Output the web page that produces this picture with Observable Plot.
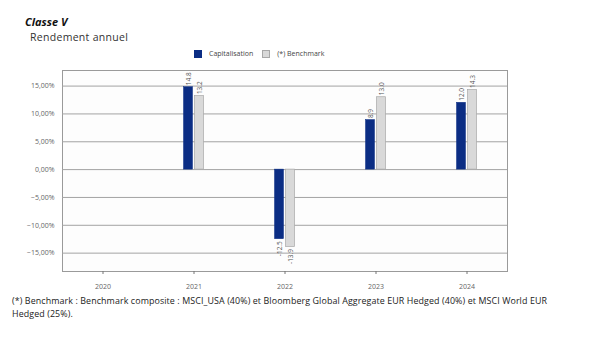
<!DOCTYPE html>
<html><head><meta charset="utf-8">
<script src="https://cdn.jsdelivr.net/npm/d3@7"></script>
<script src="https://cdn.jsdelivr.net/npm/@observablehq/plot@0.6"></script>
<style>
body{margin:0;background:#fff;font-family:"Open Sans",sans-serif;}
#wrap{position:relative;width:605px;height:351px;overflow:hidden;}
#title{position:absolute;left:25px;top:14px;font-size:11px;font-weight:700;font-style:italic;color:#111;}
#sub{position:absolute;left:30px;top:30px;font-size:10.5px;color:#333;letter-spacing:0.3px;}
#legend{position:absolute;left:194px;top:49px;font-size:7px;color:#444;display:flex;align-items:center;}
.sw{width:8px;height:8px;display:inline-block;margin-right:7px;box-sizing:border-box;}
#chart{position:absolute;left:0;top:60px;}
#note{position:absolute;left:12px;top:294px;font-size:8.9px;color:#222;line-height:13px;letter-spacing:0.1px;white-space:nowrap;}
</style></head>
<body><div id="wrap">
<div id="title">Classe V</div>
<div id="sub">Rendement annuel</div>
<div id="legend"></div>
<div id="chart"></div>
<div id="note">(*) Benchmark : Benchmark composite : MSCI_USA (40%) et Bloomberg Global Aggregate EUR Hedged (40%) et MSCI World EUR<br>Hedged (25%).</div>
</div>
<script>
const years = ["2020","2021","2022","2023","2024"];
const capitalisation = [null, 14.8, -12.5, 8.9, 12.0];
const benchmark = [null, 13.2, -13.9, 13.0, 14.3];
const yTicks = [-15,-10,-5,0,5,10,15];
const seriesNames = ["Capitalisation","(*) Benchmark"];
const colors = ["#0b2d84","#d9d9d9"];
const strokes = ["#0b2d84","#a8a8a8"];

const legend = document.getElementById("legend");
seriesNames.forEach((n,i)=>{
  const s=document.createElement("span");s.className="sw";
  s.style.background=colors[i];s.style.border="1px solid "+strokes[i];
  const t=document.createElement("span");t.textContent=n;t.style.marginRight=i===0?"9px":"0";
  legend.append(s,t);
});

const capData = years.map((y,i)=>({year:y,v:capitalisation[i]})).filter(d=>d.v!=null);
const benData = years.map((y,i)=>({year:y,v:benchmark[i]})).filter(d=>d.v!=null);
const fmt = v => d3.format(".2f")(v).replace(".",",")+"%";
const lbl = d => d.v.toFixed(1);
const pos = a => a.filter(d=>d.v>=0), neg = a => a.filter(d=>d.v<0);
const labelOpts = {x:"year", y:"v", text:lbl, rotate:-90, fill:"#555", fontSize:6.5};

const chart = Plot.plot({
  width:605, height:236,
  marginLeft:62, marginRight:98, marginTop:10, marginBottom:25,
  style:{fontFamily:"Open Sans, sans-serif", fontSize:"7px", color:"#555", background:"transparent"},
  x:{type:"band", domain:years, paddingInner:0.9, paddingOuter:0.37, label:null},
  y:{domain:[-18.3,17.8], label:null},
  marks:[
    Plot.frame({stroke:"#9a9a9a", fill:"#fdfdfd"}),
    Plot.ruleY(yTicks,{stroke:"#a3a3a3", strokeWidth:1}),
    Plot.axisY({ticks:yTicks, tickFormat:fmt, tickSize:0, tickPadding:8, fill:"#666", label:null}),
    Plot.axisX({tickSize:3, tickPadding:10, stroke:"#777", fill:"#666", label:null}),
    Plot.barY(capData,{x:"year", y:"v", fill:colors[0], stroke:strokes[0], strokeWidth:0.5, dx:-5.5}),
    Plot.barY(benData,{x:"year", y:"v", fill:colors[1], stroke:strokes[1], strokeWidth:0.7, dx:5.5}),
    Plot.text(pos(capData),{...labelOpts, dx:-5.5, dy:-2, textAnchor:"start"}),
    Plot.text(neg(capData),{...labelOpts, dx:-5.5, dy:2, textAnchor:"end"}),
    Plot.text(pos(benData),{...labelOpts, dx:5.5, dy:-2, textAnchor:"start"}),
    Plot.text(neg(benData),{...labelOpts, dx:5.5, dy:2, textAnchor:"end"})
  ]
});
document.getElementById("chart").append(chart);
</script>
</body></html>
